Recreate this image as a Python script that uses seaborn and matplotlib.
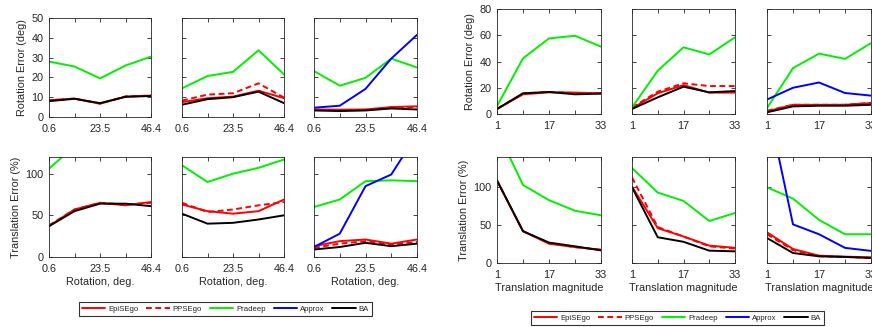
import matplotlib
matplotlib.use("Agg")
import matplotlib.pyplot as plt
import seaborn as sns
import pandas as pd
import numpy as np
from matplotlib.lines import Line2D

nan = np.nan

methods = ["EpiSEgo", "PPSEgo", "Pradeep", "Approx", "BA"]
colors = {"EpiSEgo": "#ff0000", "PPSEgo": "#ff0000", "Pradeep": "#00f000",
          "Approx": "#0000ff", "BA": "#000000"}

rot_x = [0.6, 12.05, 23.5, 34.95, 46.4]
rot_ticklabels = ["0.6", "", "23.5", "", "46.4"]
trans_x = [1, 9, 17, 25, 33]
trans_ticklabels = ["1", "", "17", "", "33"]

# left group: error vs rotation
lrot_1 = {"EpiSEgo": [8.5, 9.3, 6.7, 10.3, 10.8], "PPSEgo": [8.3, 9.3, 6.8, 10.4, 10.8],
          "Pradeep": [28, 25.5, 19.5, 26, 30.5], "Approx": [nan] * 5,
          "BA": [8, 9.2, 7, 10.2, 10.6]}
lrot_2 = {"EpiSEgo": [7.5, 9.5, 10.3, 13.3, 9.5], "PPSEgo": [8.3, 11.3, 12, 17, 9.8],
          "Pradeep": [14.5, 20.7, 22.8, 33.7, 21.5], "Approx": [nan] * 5,
          "BA": [6.2, 9, 10, 12.8, 7]}
lrot_3 = {"EpiSEgo": [3.8, 3.7, 3.8, 5, 5.4], "PPSEgo": [3.6, 3.4, 3.6, 4.8, 5],
          "Pradeep": [23.2, 15.8, 19.8, 29.5, 25], "Approx": [4.7, 5.7, 14.2, 29.5, 41.5],
          "BA": [3.3, 3, 3.3, 4.3, 3.8]}
ltra_1 = {"EpiSEgo": [37, 57, 65, 62, 66], "PPSEgo": [38, 57, 65, 63, 65],
          "Pradeep": [106, 133, nan, nan, nan], "Approx": [nan] * 5,
          "BA": [37, 55, 64, 64, 61]}
ltra_2 = {"EpiSEgo": [63, 55, 52, 55, 69], "PPSEgo": [65, 54, 57, 62, 66],
          "Pradeep": [110, 90, 100, 107, 117], "Approx": [nan] * 5,
          "BA": [52, 40, 41, 45, 50]}
ltra_3 = {"EpiSEgo": [13, 19, 21, 16, 21], "PPSEgo": [11, 16, 19, 15, 18],
          "Pradeep": [60, 69, 91, 92, 91], "Approx": [12, 28, 85, 99, 147],
          "BA": [9, 12, 17, 13, 16]}

# right group: error vs translation magnitude
rrot_1 = {"EpiSEgo": [3.8, 15, 16.5, 16.3, 15.8], "PPSEgo": [3.9, 15.5, 16.8, 16, 16],
          "Pradeep": [6, 42.4, 57.6, 59.6, 51.3], "Approx": [nan] * 5,
          "BA": [3.8, 15.8, 16.8, 15, 15.5]}
rrot_2 = {"EpiSEgo": [4.3, 15.8, 22, 16.3, 16.3], "PPSEgo": [5, 17, 23.4, 21.3, 21.3],
          "Pradeep": [5, 33, 50.8, 45.4, 58.4], "Approx": [nan] * 5,
          "BA": [3.8, 12.7, 20.8, 16.5, 17.5]}
rrot_3 = {"EpiSEgo": [2, 7, 7, 7, 8.3], "PPSEgo": [2.5, 7, 7, 7, 8.5],
          "Pradeep": [4.5, 35, 46, 42, 54], "Approx": [11, 20, 24, 16, 14],
          "BA": [1.3, 5.8, 6.3, 6.3, 7]}
rtra_1 = {"EpiSEgo": [109, 42, 25.5, 21, 17.6], "PPSEgo": [109, 42, 26, 21, 17.5],
          "Pradeep": [175, 103, 83, 69, 63], "Approx": [nan] * 5,
          "BA": [109, 42, 27, 22, 16.7]}
rtra_2 = {"EpiSEgo": [101, 46, 35, 23, 20], "PPSEgo": [113, 47.5, 35, 22, 19],
          "Pradeep": [125.5, 93, 82, 55.5, 66], "Approx": [nan] * 5,
          "BA": [100, 34, 28, 16.3, 15.4]}
rtra_3 = {"EpiSEgo": [40.5, 18.5, 9.7, 8.4, 7.5], "PPSEgo": [38, 17, 9, 8, 7],
          "Pradeep": [100, 85, 57, 38, 38], "Approx": [213, 51, 38, 20, 16],
          "BA": [33, 13.2, 8.8, 8, 6.6]}

sns.set_style("ticks")
plt.rcParams['font.family'] = ['Liberation Sans', 'DejaVu Sans']
plt.rcParams['xtick.direction'] = 'in'
plt.rcParams['ytick.direction'] = 'in'
plt.rcParams['xtick.top'] = True
plt.rcParams['ytick.right'] = True

W, H = 872, 327
fig = plt.figure(figsize=(W / 100, H / 100), dpi=100)
fs = 7.8
gray = "#262626"


def add_ax(x0, x1, y0, y1):
    return fig.add_axes([x0 / W, 1 - y1 / H, (x1 - x0) / W, (y1 - y0) / H])


def draw(ax, xs, data, ylim, yticks, xticklabels, show_y, ylabel=None, xlabel=None):
    for m in methods:
        vals = data[m]
        if np.all(np.isnan(vals)):
            continue
        df = pd.DataFrame({"x": xs, "y": vals})
        sns.lineplot(data=df, x="x", y="y", ax=ax, color=colors[m], lw=1.4,
                     linestyle=(0, (3, 1.8)) if m == "PPSEgo" else "-")
    ax.set_xlim(xs[0], xs[-1])
    ax.set_ylim(*ylim)
    ax.set_xticks(xs)
    ax.set_xticklabels(xticklabels, fontsize=fs, color=gray)
    ax.set_yticks(yticks)
    if show_y:
        ax.set_yticklabels([str(t) for t in yticks], fontsize=fs, color=gray)
    else:
        ax.set_yticklabels([])
    ax.tick_params(length=3, width=0.6, color=gray)
    ax.tick_params(axis="x", pad=5)
    ax.tick_params(axis="y", pad=4)
    for s in ax.spines.values():
        s.set_color(gray)
        s.set_linewidth(0.6)
    ax.set_ylabel(ylabel if ylabel else "", fontsize=fs, color=gray, labelpad=3)
    ax.set_xlabel(xlabel if xlabel else "", fontsize=fs, color=gray, labelpad=2)


left_cols = [(49, 151), (182, 284), (314, 417)]
right_cols = [(497, 601), (632, 735), (767, 871)]

for i, (c, d) in enumerate(zip(left_cols, [lrot_1, lrot_2, lrot_3])):
    ax = add_ax(c[0], c[1], 18, 117)
    draw(ax, rot_x, d, (0, 50), [0, 10, 20, 30, 40, 50], rot_ticklabels, i == 0,
         ylabel="Rotation Error (deg)" if i == 0 else None)
for i, (c, d) in enumerate(zip(left_cols, [ltra_1, ltra_2, ltra_3])):
    ax = add_ax(c[0], c[1], 157, 257)
    draw(ax, rot_x, d, (0, 120), [0, 50, 100], rot_ticklabels, i == 0,
         ylabel="Translation Error (%)" if i == 0 else None, xlabel="Rotation, deg.")
for i, (c, d) in enumerate(zip(right_cols, [rrot_1, rrot_2, rrot_3])):
    ax = add_ax(c[0], c[1], 9, 114)
    draw(ax, trans_x, d, (0, 80), [0, 20, 40, 60, 80], trans_ticklabels, i == 0,
         ylabel="Rotation Error (deg)" if i == 0 else None)
for i, (c, d) in enumerate(zip(right_cols, [rtra_1, rtra_2, rtra_3])):
    ax = add_ax(c[0], c[1], 157, 263)
    draw(ax, trans_x, d, (0, 140), [0, 50, 100], trans_ticklabels, i == 0,
         ylabel="Translation Error (%)" if i == 0 else None, xlabel="Translation magnitude")

handles = [Line2D([], [], color=colors[m], lw=1.4,
                  linestyle=(0, (3, 1.8)) if m == "PPSEgo" else "-") for m in methods]

for cx, cy in [(225.5, 309), (677.5, 318)]:
    leg = fig.legend(handles, methods, loc="center", bbox_to_anchor=(cx / W, 1 - cy / H),
                     ncol=5, fontsize=5.6, frameon=True, fancybox=False, handlelength=3.0,
                     columnspacing=1.0, handletextpad=0.4, borderpad=0.4,
                     borderaxespad=0)
    leg.get_frame().set_edgecolor("black")
    leg.get_frame().set_linewidth(0.8)

fig.savefig("out.png", dpi=100)
